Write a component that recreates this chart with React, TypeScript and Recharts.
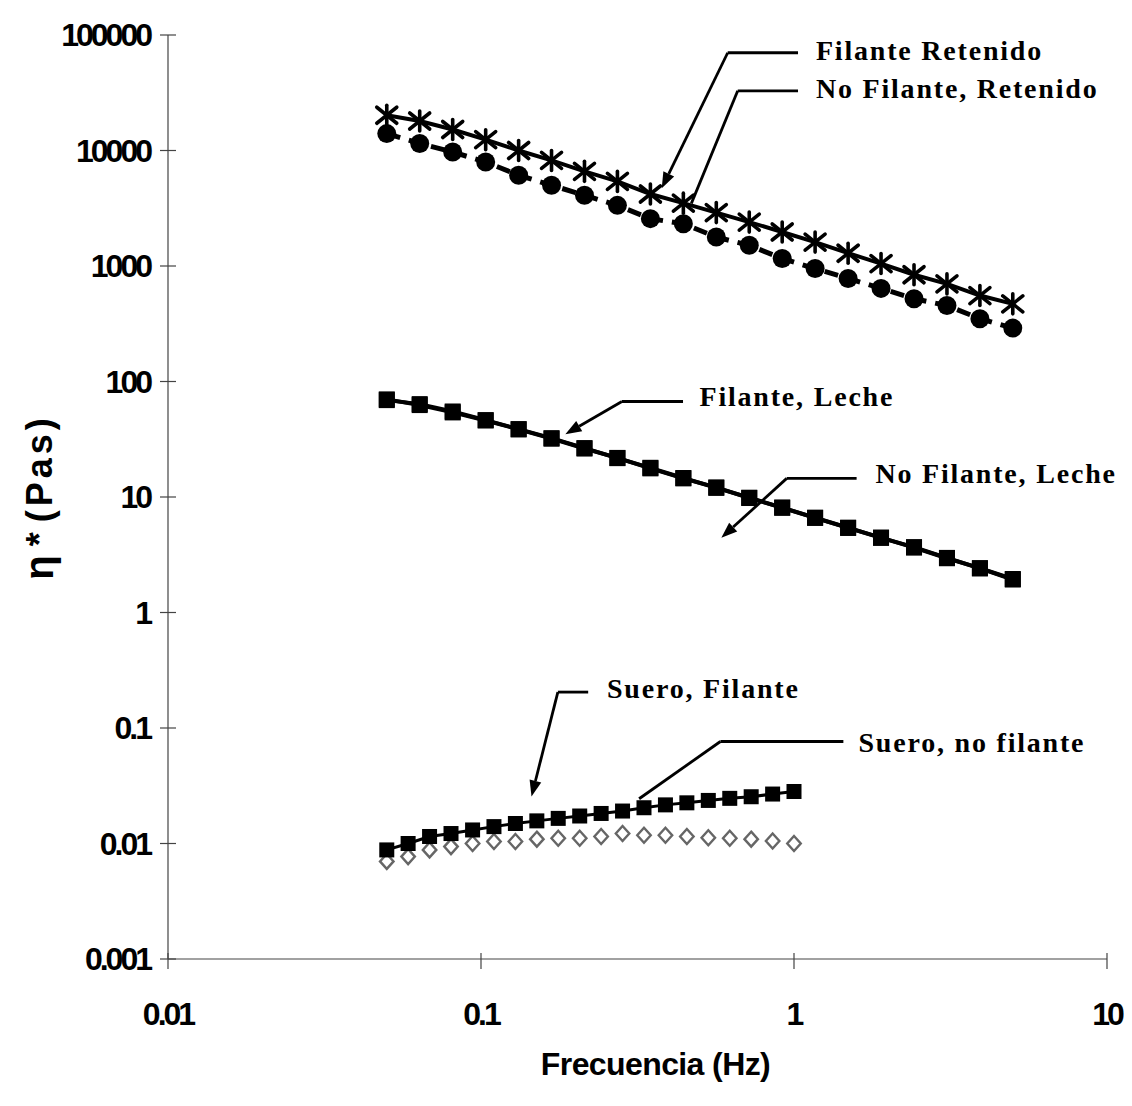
import React from 'react';
import { ComposedChart, Line, XAxis, YAxis, ReferenceLine, ReferenceDot } from 'recharts';

// Frequencies (Hz)
const freqWide = [0.05, 0.0637, 0.0812, 0.1035, 0.1319, 0.168, 0.2141, 0.2728, 0.3477, 0.4431, 0.5646, 0.7195, 0.9168, 1.168, 1.489, 1.897, 2.418, 3.081, 3.926, 5.0];
const freqSuero = [0.05, 0.0585, 0.0685, 0.0802, 0.094, 0.11, 0.1288, 0.1508, 0.1765, 0.2067, 0.242, 0.2833, 0.3317, 0.3884, 0.4547, 0.5324, 0.6234, 0.7298, 0.8545, 1.0];

// η* (Pa·s)
const filanteRetenido = [20200, 18000, 15200, 12400, 10000, 8200, 6600, 5400, 4200, 3500, 2900, 2400, 1970, 1610, 1290, 1050, 840, 700, 555, 470];
const noFilanteRetenido = [14000, 11500, 9700, 7950, 6100, 5000, 4100, 3350, 2570, 2320, 1780, 1510, 1160, 950, 780, 640, 520, 455, 350, 290];
const filanteLeche = [69, 63.7, 55, 46.3, 38.7, 32.3, 26.5, 21.7, 17.9, 14.6, 12, 9.86, 8.07, 6.61, 5.42, 4.43, 3.68, 2.97, 2.41, 1.93];
const noFilanteLeche = [70, 62.5, 54, 46, 38.5, 32, 26.3, 21.8, 17.7, 14.5, 12.1, 9.8, 8.1, 6.6, 5.4, 4.45, 3.65, 2.95, 2.42, 1.95];
const sueroFilante = [0.0088, 0.01, 0.0115, 0.0122, 0.0131, 0.014, 0.0149, 0.0157, 0.0165, 0.0173, 0.0182, 0.0191, 0.0204, 0.0216, 0.0225, 0.0236, 0.0246, 0.0254, 0.0268, 0.0282];
const sueroNoFilante = [0.007, 0.0077, 0.0088, 0.0094, 0.01, 0.0104, 0.0104, 0.0109, 0.0111, 0.0111, 0.0115, 0.0122, 0.0118, 0.0118, 0.0115, 0.0112, 0.0111, 0.0109, 0.0105, 0.01];

// Axes
const xTicks = [0.01, 0.1, 1, 10];
const xTickLabels = ['0.01', '0.1', '1', '10'];
const yTicks = [0.001, 0.01, 0.1, 1, 10, 100, 1000, 10000, 100000];
const yTickLabels = ['0.001', '0.01', '0.1', '1', '10', '100', '1000', '10000', '100000'];
const xTitle = 'Frecuencia (Hz)';
const yTitleParts = ['η', '*', '(Pas)'];

// Annotation labels with leader lines (data coordinates)
const annotations = [
  { text: 'Filante Retenido', at: [1.175, 60700], elbow: [0.614, 70200], end: [1.03, 70200], tip: [0.378, 4705], arrow: true },
  { text: 'No Filante, Retenido', at: [1.175, 28230], elbow: [0.661, 32850], end: [1.03, 32850], tip: [0.47, 3487], arrow: false },
  { text: 'Filante, Leche', at: [0.499, 61.6], elbow: [0.282, 67.1], end: [0.442, 67.1], tip: [0.186, 35.0], arrow: true },
  { text: 'No Filante, Leche', at: [1.82, 13.2], elbow: [0.948, 14.5], end: [1.585, 14.5], tip: [0.586, 4.43], arrow: true },
  { text: 'Suero, Filante', at: [0.2527, 0.1815], elbow: [0.176, 0.2046], end: [0.22, 0.2046], tip: [0.145, 0.0255], arrow: true },
  { text: 'Suero, no filante', at: [1.607, 0.0625], elbow: [0.582, 0.0764], end: [1.438, 0.0764], tip: [0.32, 0.0244], arrow: false },
];

const zip = (xs: number[], vs: number[]) => xs.map((f, i) => ({ f, v: vs[i] }));

const StarDot = (p: any) => {
  const { cx, cy, index } = p;
  if (cx == null || cy == null) return <g key={index} />;
  const r = 10;
  return (
    <g key={index} stroke="#000" strokeWidth={3.6} strokeLinecap="round">
      <line x1={cx - r} y1={cy - r * 0.8} x2={cx + r} y2={cy + r * 0.8} />
      <line x1={cx - r} y1={cy + r * 0.8} x2={cx + r} y2={cy - r * 0.8} />
      <line x1={cx} y1={cy - r} x2={cx} y2={cy + r} />
    </g>
  );
};
const CircleDot = (p: any) => {
  const { cx, cy, index } = p;
  if (cx == null || cy == null) return <g key={index} />;
  return <circle key={index} cx={cx} cy={cy} r={9.5} fill="#000" stroke="none" />;
};
const makeSquare = (s: number) => (p: any) => {
  const { cx, cy, index } = p;
  if (cx == null || cy == null) return <g key={index} />;
  return <rect key={index} x={cx - s / 2} y={cy - s / 2} width={s} height={s} fill="#000" stroke="none" />;
};
const DiamondDot = (p: any) => {
  const { cx, cy, index } = p;
  if (cx == null || cy == null) return <g key={index} />;
  const r = 7.5;
  return (
    <polygon key={index} points={`${cx},${cy - r} ${cx + r * 0.9},${cy} ${cx},${cy + r} ${cx - r * 0.9},${cy}`} fill="#fff" stroke="#666" strokeWidth={2.4} />
  );
};

const XTick = (p: any) => {
  const { x, y, payload } = p;
  const i = xTicks.indexOf(payload.value);
  return (
    <g>
      <line x1={x} y1={y - 6} x2={x} y2={y + 10} stroke="#444" strokeWidth={1.2} />
      <text x={x} y={y + 66} textAnchor="middle" fontFamily="'Liberation Sans', Arial, sans-serif" fontWeight="bold" fontSize={32} letterSpacing={-3} fill="#000">
        {xTickLabels[i] ?? String(payload.value)}
      </text>
    </g>
  );
};
const YTick = (p: any) => {
  const { x, y, payload } = p;
  const i = yTicks.indexOf(payload.value);
  return (
    <g>
      <line x1={x - 8} y1={y} x2={x + 8} y2={y} stroke="#444" strokeWidth={1.2} />
      <text x={x - 18} y={y + 11} textAnchor="end" fontFamily="'Liberation Sans', Arial, sans-serif" fontWeight="bold" fontSize={32} letterSpacing={-3} fill="#000">
        {yTickLabels[i] ?? String(payload.value)}
      </text>
    </g>
  );
};

const Leader = (arrow: boolean) => (p: any) => {
  const { x1, y1, x2, y2 } = p;
  if ([x1, y1, x2, y2].some((v) => v == null || Number.isNaN(v))) return <g />;
  const dx = x2 - x1;
  const dy = y2 - y1;
  const len = Math.sqrt(dx * dx + dy * dy) || 1;
  const ux = dx / len;
  const uy = dy / len;
  const ah = 16;
  const aw = 6;
  const bx = x2 - ux * ah;
  const by = y2 - uy * ah;
  return (
    <g>
      <line x1={x1} y1={y1} x2={arrow ? bx : x2} y2={arrow ? by : y2} stroke="#000" strokeWidth={2.8} />
      {arrow && (
        <polygon points={`${x2},${y2} ${bx - uy * aw},${by + ux * aw} ${bx + uy * aw},${by - ux * aw}`} fill="#000" />
      )}
    </g>
  );
};

const LabelText = (text: string) => (p: any) => {
  const { cx, cy } = p;
  if (cx == null || cy == null) return <g />;
  return (
    <text x={cx} y={cy} fontFamily="'Liberation Serif', 'Times New Roman', serif" fontWeight="bold" fontSize={28} letterSpacing={1.8} fill="#000">
      {text}
    </text>
  );
};

export default function App() {
  return (
    <ComposedChart width={1120} height={1095} margin={{ top: 27, right: 21, left: 0, bottom: 0 }}>
      <XAxis
        dataKey="f"
        type="number"
        scale="log"
        domain={[0.01, 10]}
        ticks={xTicks}
        allowDataOverflow
        height={144}
        tickSize={0}
        tickMargin={0}
        tick={<XTick />}
        axisLine={{ stroke: '#444', strokeWidth: 1.2 }}
        label={{
          content: (props: any) => {
            const vb = props.viewBox || {};
            return (
              <text x={(vb.x ?? 160) + (vb.width ?? 939) / 2 + 18} y={(vb.y ?? 951) + 116} textAnchor="middle" fontFamily="'Liberation Sans', Arial, sans-serif" fontWeight="bold" fontSize={32} letterSpacing={-0.6} fill="#000">
                {xTitle}
              </text>
            );
          },
        }}
      />
      <YAxis
        dataKey="v"
        type="number"
        scale="log"
        domain={[0.001, 100000]}
        ticks={yTicks}
        allowDataOverflow
        width={160}
        tickSize={0}
        tickMargin={0}
        tick={<YTick />}
        axisLine={{ stroke: '#444', strokeWidth: 1.2 }}
        label={{
          content: (props: any) => {
            const vb = props.viewBox || {};
            const cy = (vb.y ?? 27) + (vb.height ?? 924) / 2;
            const cx = 31;
            return (
              <text x={cx} y={cy} transform={`rotate(-90, ${cx}, ${cy})`} textAnchor="middle" dominantBaseline="central" fontFamily="'Liberation Sans', Arial, sans-serif" fontWeight="bold" fontSize={36} letterSpacing={4} fill="#000">
                <tspan fontSize={40}>{yTitleParts[0]}</tspan>
                <tspan dx={5}>{yTitleParts[1]}</tspan>
                <tspan dx={6}>{yTitleParts[2]}</tspan>
              </text>
            );
          },
        }}
      />

      <Line data={zip(freqSuero, sueroNoFilante)} dataKey="v" stroke="none" dot={DiamondDot} activeDot={false} isAnimationActive={false} />
      <Line data={zip(freqSuero, sueroFilante)} dataKey="v" stroke="#000" strokeWidth={3} dot={makeSquare(15)} activeDot={false} isAnimationActive={false} />
      <Line data={zip(freqWide, noFilanteLeche)} dataKey="v" stroke="#000" strokeWidth={4} dot={makeSquare(16)} activeDot={false} isAnimationActive={false} />
      <Line data={zip(freqWide, filanteLeche)} dataKey="v" stroke="#000" strokeWidth={4} dot={makeSquare(16)} activeDot={false} isAnimationActive={false} />
      <Line data={zip(freqWide, noFilanteRetenido)} dataKey="v" stroke="#000" strokeWidth={5} strokeDasharray="14 9" dot={CircleDot} activeDot={false} isAnimationActive={false} />
      <Line data={zip(freqWide, filanteRetenido)} dataKey="v" stroke="#000" strokeWidth={4} dot={StarDot} activeDot={false} isAnimationActive={false} />

      {annotations.map((a, i) => (
        <ReferenceLine key={`h${i}`} segment={[{ x: a.elbow[0], y: a.elbow[1] }, { x: a.end[0], y: a.end[1] }]} ifOverflow="visible" shape={Leader(false)} />
      ))}
      {annotations.map((a, i) => (
        <ReferenceLine key={`d${i}`} segment={[{ x: a.elbow[0], y: a.elbow[1] }, { x: a.tip[0], y: a.tip[1] }]} ifOverflow="visible" shape={Leader(a.arrow)} />
      ))}
      {annotations.map((a, i) => (
        <ReferenceDot key={`t${i}`} x={a.at[0]} y={a.at[1]} r={0} ifOverflow="visible" shape={LabelText(a.text)} />
      ))}
    </ComposedChart>
  );
}
